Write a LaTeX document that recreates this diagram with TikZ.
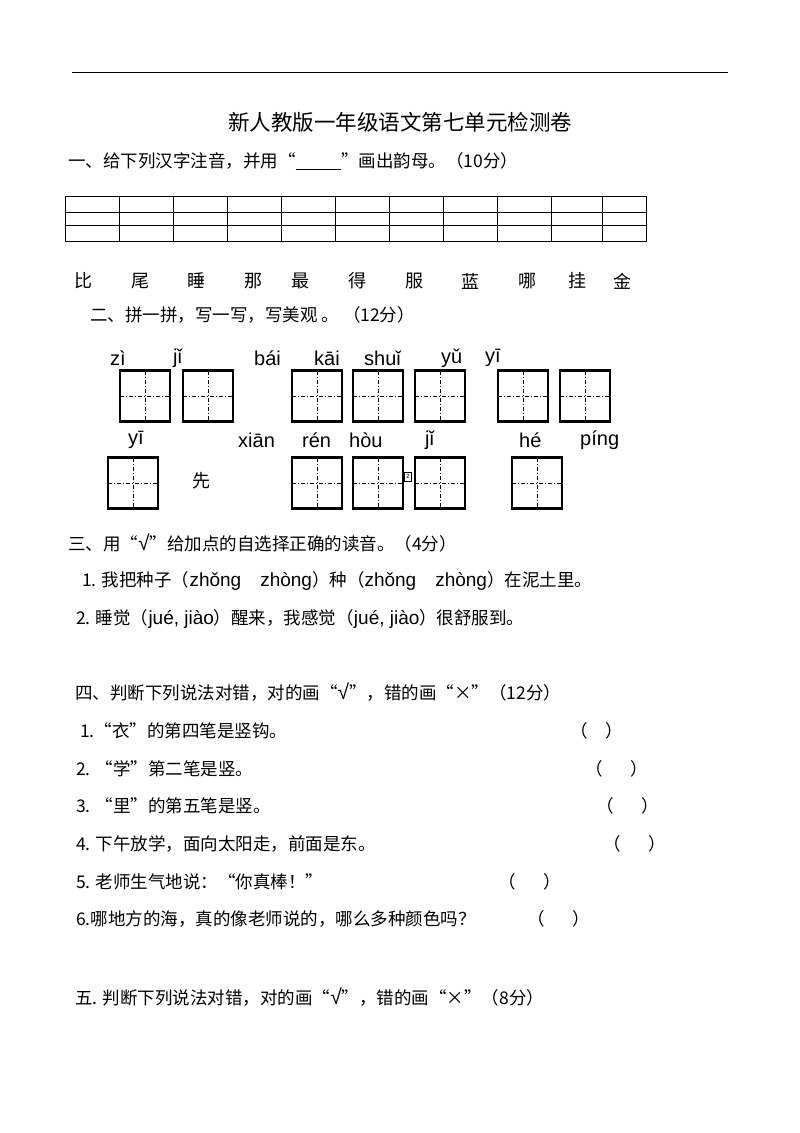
\documentclass[tikz,border=0pt]{standalone}
\usepackage{fontspec}
\newfontfamily\cjk{Noto Sans CJK SC}
\newfontfamily\py{Liberation Sans}
\begin{document}
\begin{tikzpicture}[x=1pt,y=-1pt,
 t/.style={anchor=west,inner sep=0,font=\cjk\fontsize{17.5}{17.5}\selectfont},
 p/.style={anchor=west,inner sep=0,font=\py\fontsize{20}{20}\selectfont},
 tian/.style={draw,line width=2.2pt,minimum width=50pt,minimum height=51pt,inner sep=0,
   path picture={\draw[line width=0.6pt,dash pattern=on 4pt off 2pt on 1pt off 2pt]
     (path picture bounding box.north)--(path picture bounding box.south)
     (path picture bounding box.west)--(path picture bounding box.east);}}]
\useasboundingbox (0,0) rectangle (800,1133);
\fill[white] (0,0) rectangle (800,1133);
\draw[line width=1pt] (72,72)--(728,72);
\node[font=\cjk\fontsize{21.5}{21.5}\selectfont] (title) at (400,122) {新人教版一年级语文第七单元检测卷};
\node[t] (s1) at (68,161) {一、给下列汉字注音，并用“\underline{\hspace{2.6em}}”画出韵母。（10分）};
% table
\draw[line width=0.8pt] (65,196) rectangle (646,241);
\foreach \y in {212,225} \draw[line width=0.8pt] (65,\y)--(646,\y);
\foreach \x in {119,173,227,281,335,389,443,497,551,602} \draw[line width=0.8pt] (\x,196)--(\x,241);
\foreach \c/\x in {比/83,尾/140,睡/196,那/253,最/300,得/357,服/414,蓝/470,哪/527,挂/577,金/622}
  \node[font=\cjk\fontsize{18}{18}\selectfont] at (\x,281) {\c};
\node[t] (s2) at (90,315) {二、拼一拼，写一写，写美观 。 （12分）};
\foreach \w/\x in {zì/110,jǐ/173,bái/254,kāi/314,shuǐ/364,yǔ/441,yī/485}
  \node[p] at (\x,358) {\w};
\foreach \x [count=\i] in {145,208,317,378,440,523,585}
  \node[tian] (a\i) at (\x,396) {};
\foreach \w/\x in {yī/128,xiān/238,rén/302,hòu/349,jǐ/425,hé/519,píng/580}
  \node[p] at (\x,440) {\w};
\foreach \x [count=\i] in {133,317,378,440,537}
  \node[tian] (b\i) at (\x,483) {};
\node[font=\cjk\fontsize{18}{18}\selectfont] (xian) at (201,481) {先};
\node[draw,line width=0.8pt,minimum width=7pt,minimum height=9pt,inner sep=0,font=\py\fontsize{7}{7}\selectfont] (z) at (408,477) {z};
\node[t] (s3) at (68,543) {三、用“\py\fontsize{21}{21}\selectfont √\cjk\fontsize{17.5}{17.5}\selectfont ”给加点的自选择正确的读音。（4分）};
\node[t] (q31) at (82,581) {1. 我把种子（{\py\fontsize{19}{19}\selectfont zhǒng\quad zhòng}）种（{\py\fontsize{19}{19}\selectfont zhǒng\quad zhòng}）在泥土里。};
\node[t] (q32) at (76,619) {2. 睡觉（{\py\fontsize{19}{19}\selectfont jué, jiào}）醒来，我感觉（{\py\fontsize{19}{19}\selectfont jué, jiào}）很舒服到。};
\node[t] (s4) at (75,692) {四、判断下列说法对错，对的画“\py\fontsize{21}{21}\selectfont √\cjk\fontsize{17.5}{17.5}\selectfont ”，错的画“×”（12分）};
\node[t] (q1) at (80,731) {1.“衣”的第四笔是竖钩。};
\node[t] (q2) at (76,769) {2. “学”第二笔是竖。};
\node[t] (q3) at (76,806) {3. “里”的第五笔是竖。};
\node[t] (q4) at (76,844) {4. 下午放学，面向太阳走，前面是东。};
\node[t] (q5) at (76,882) {5. 老师生气地说：“你真棒！”};
\node[t] (q6) at (76,919) {6.哪地方的海，真的像老师说的，哪么多种颜色吗？};
\node[t] (r1) at (570,731) {（\hspace{1em}）};
\node[t] (r2) at (585,769) {（\hspace{1.6em}）};
\node[t] (r3) at (596,806) {（\hspace{1.6em}）};
\node[t] (r4) at (603,844) {（\hspace{1.6em}）};
\node[t] (r5) at (498,882) {（\hspace{1.6em}）};
\node[t] (r6) at (527,919) {（\hspace{1.6em}）};
\node[t] (s5) at (75,997) {五. 判断下列说法对错，对的画“\py\fontsize{21}{21}\selectfont √\cjk\fontsize{17.5}{17.5}\selectfont ”，错的画“×”（8分）};
\end{tikzpicture}
\end{document}
